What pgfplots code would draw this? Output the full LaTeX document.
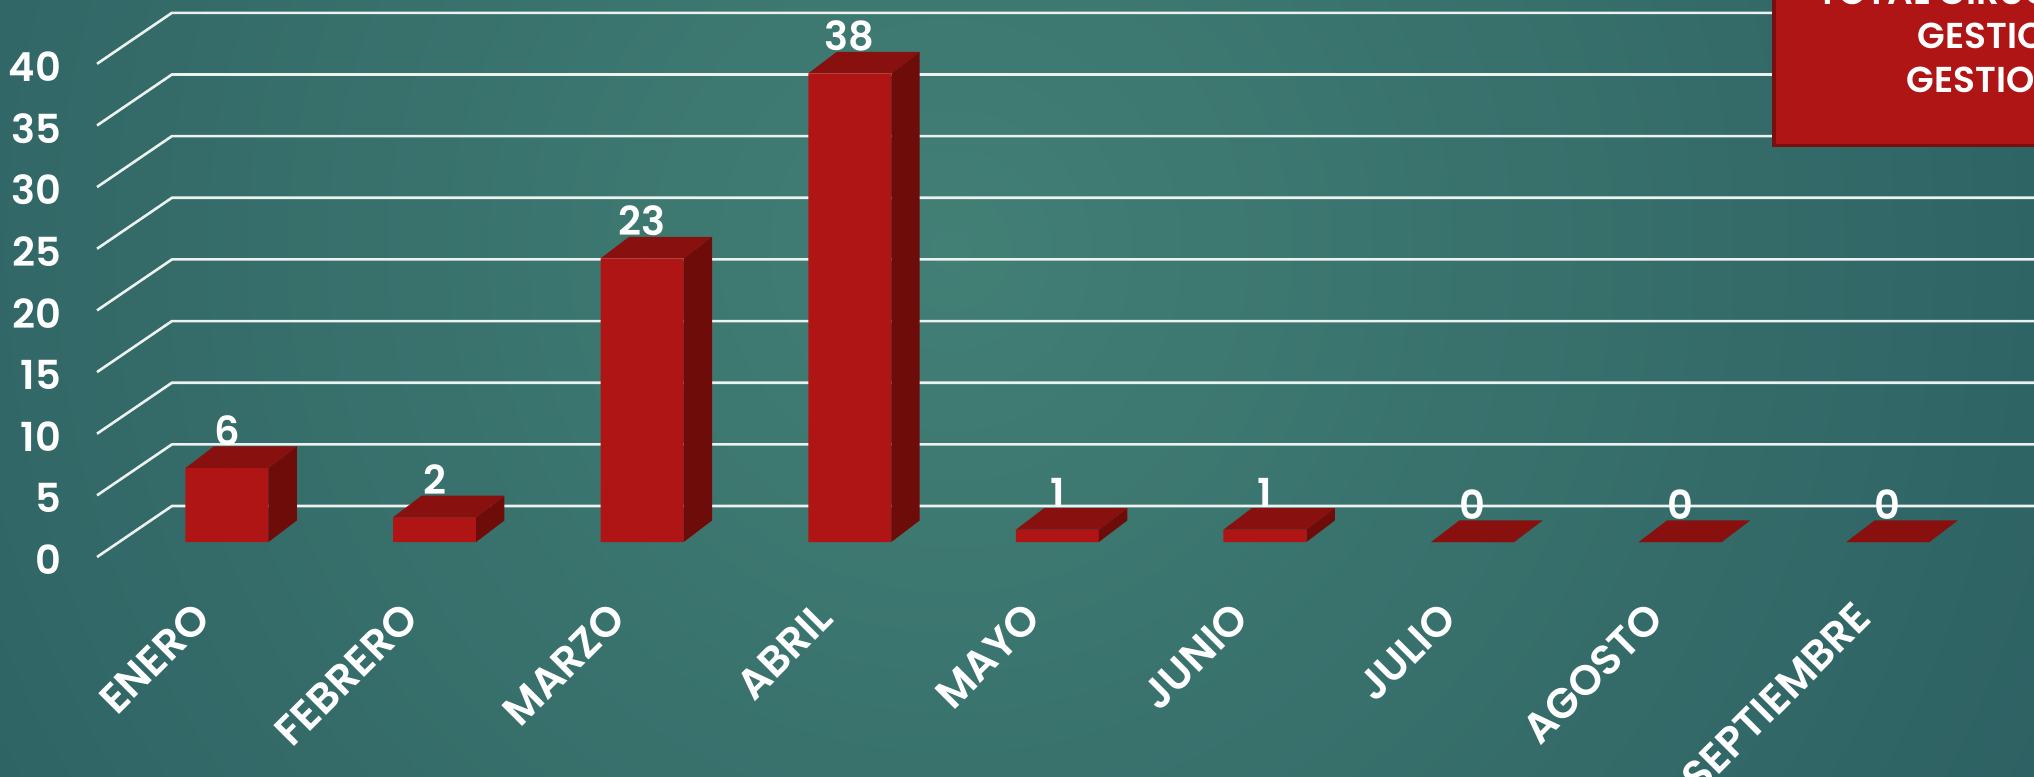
\documentclass[border=0pt]{standalone}
\usepackage{fontspec}
\setmainfont{Poppins}[BoldFont={* SemiBold}]
\usepackage{pgfplots}
\usepackage{pgfplotstable}
\pgfplotsset{compat=1.18}
\definecolor{bgin}{RGB}{66,127,117}
\definecolor{bgout}{RGB}{27,71,83}
\definecolor{barfront}{RGB}{176,21,21}
\definecolor{bartop}{RGB}{136,16,14}
\definecolor{barside}{RGB}{110,12,10}
\definecolor{legdark}{RGB}{122,14,14}
\definecolor{gridc}{RGB}{235,242,240}
\pgfdeclareradialshading{bgshade}{\pgfpoint{0bp}{0bp}}{color(0bp)=(bgin); color(45bp)=(bgout); color(50bp)=(bgout)}
\pgfplotstableread{
x v
0 6
1 2
2 23
3 38
4 1
5 1
6 0
7 0
8 0
}\datatable
\begin{document}
\begin{tikzpicture}
\path[use as bounding box] (0,0) rectangle (508.5pt,194pt);
\clip (0,0) rectangle (508.5pt,194pt);
\shade[shading=bgshade] (237.5pt,131.5pt) circle (312.5pt);
\begin{axis}[
  at={(0,0)}, anchor=south west,
  x=51.9pt, y=3.0825pt,
  xmin=-1.0934, xmax=8.7042, ymin=-18.98, ymax=43.96,
  clip=false,
  axis line style={draw=none},
  major tick length=0pt,
  /pgf/number format/assume math mode=true,
  ytick={0,5,...,40},
  yticklabel style={font=\bfseries\fontsize{10}{12}\selectfont, text=white, inner sep=0pt, anchor=east, xshift=15.5pt, yshift=-4.5pt},
  xtick={0,...,8},
  xticklabels={ENERO,FEBRERO,MARZO,ABRIL,MAYO,JUNIO,JULIO,AGOSTO,SEPTIEMBRE},
  xticklabel style={font=\bfseries\fontsize{10.5}{12}\selectfont, text=white, inner sep=0pt, xshift=-6pt, yshift=41.5pt, rotate=45, anchor=east},
]
% gridlines (floor slant + back wall)
\addplot[gridc, line width=0.65pt] coordinates {(-0.626,-1.217) (-0.265,2.92) (8.71,2.92)};
\addplot[gridc, line width=0.65pt] coordinates {(-0.626,3.783) (-0.265,7.92) (8.71,7.92)};
\addplot[gridc, line width=0.65pt] coordinates {(-0.626,8.783) (-0.265,12.92) (8.71,12.92)};
\addplot[gridc, line width=0.65pt] coordinates {(-0.626,13.783) (-0.265,17.92) (8.71,17.92)};
\addplot[gridc, line width=0.65pt] coordinates {(-0.626,18.783) (-0.265,22.92) (8.71,22.92)};
\addplot[gridc, line width=0.65pt] coordinates {(-0.626,23.783) (-0.265,27.92) (8.71,27.92)};
\addplot[gridc, line width=0.65pt] coordinates {(-0.626,28.783) (-0.265,32.92) (8.71,32.92)};
\addplot[gridc, line width=0.65pt] coordinates {(-0.626,33.783) (-0.265,37.92) (8.71,37.92)};
\addplot[gridc, line width=0.65pt] coordinates {(-0.626,38.783) (-0.265,42.92) (8.71,42.92)};
% top and side faces of the 3D bars
\addplot[scatter, only marks, mark=*, mark size=0pt, draw=none,
  visualization depends on={\thisrow{v} \as \bv},
  scatter/@pre marker code/.code={%
    \pgfmathsetlengthmacro\hh{\bv*3.0825pt}%
    \fill[barside] (10.375pt,0pt) -- (17.475pt,5.4pt) -- (17.475pt,{5.4pt-\hh}) -- (10.375pt,-\hh) -- cycle;
    \fill[bartop] (-10.375pt,0pt) -- (10.375pt,0pt) -- (17.475pt,5.4pt) -- (-3.275pt,5.4pt) -- cycle;
  },
  scatter/@post marker code/.code={},
] table[x=x, y=v] {\datatable};
% front faces
\addplot[ybar, bar width=20.75pt, bar shift=0pt, fill=barfront, draw=none,
  nodes near coords,
  every node near coord/.append style={font=\bfseries\fontsize{10}{12}\selectfont, text=white, inner sep=0pt, anchor=south, yshift=5.4pt},
] table[x=x, y=v] {\datatable};
\end{axis}
% title box (top right, cut by the frame)
\fill[legdark] (443pt,157.25pt) rectangle (512pt,197pt);
\fill[barfront] (443.9pt,158.1pt) rectangle (512pt,197pt);
\node[anchor=base west, inner sep=0pt, text=white, font=\bfseries\fontsize{9}{11}\selectfont] at (454.25pt,193pt) {TOTAL CIRUGIAS};
\node[anchor=base west, inner sep=0pt, text=white, font=\bfseries\fontsize{9}{11}\selectfont] at (479.25pt,182pt) {GESTION 2019};
\node[anchor=base west, inner sep=0pt, text=white, font=\bfseries\fontsize{9}{11}\selectfont] at (476.5pt,171pt) {GESTION 2020};
\end{tikzpicture}
\end{document}
